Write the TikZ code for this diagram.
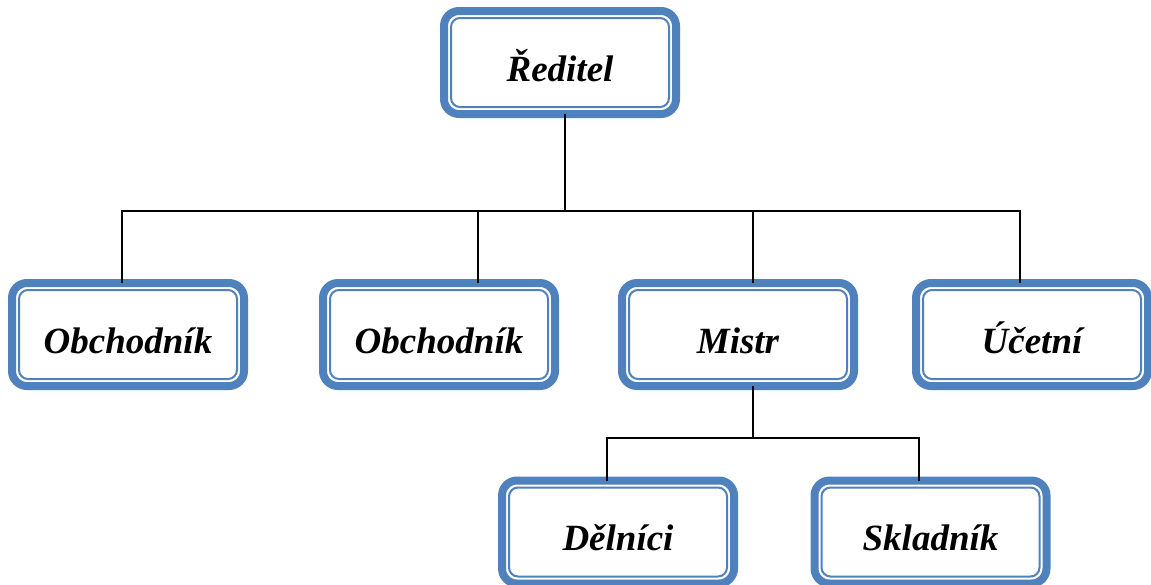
\documentclass[tikz,border=0pt]{standalone}
\usepackage{fontspec}
\setmainfont{Liberation Serif}
\definecolor{boxblue}{HTML}{4F81BD}
\tikzset{
  orgbox/.style={draw=boxblue, line width=8pt, rounded corners=15pt, fill=white,
    minimum width=232pt, minimum height=103pt, outer sep=0pt, inner sep=0pt,
    text height=40pt, text depth=3pt,
    font=\fontsize{37}{40}\selectfont\bfseries\itshape,
    append after command={
      ([shift={(7pt,-7pt)}]\tikzlastnode.north west) edge[draw=boxblue, line width=2pt, rounded corners=9pt, to path={rectangle (\tikztotarget)}]
      ([shift={(-7pt,7pt)}]\tikzlastnode.south east)
    }},
  link/.style={draw=black, line width=2pt}
}
\begin{document}
\begin{tikzpicture}[x=1pt,y=-1pt]
\useasboundingbox (0,0) rectangle (1151,584);
\node[orgbox] (r) at (560,62.5) {Ředitel};
\node[orgbox] (o1) at (128,334.5) {Obchodník};
\node[orgbox] (o2) at (439,334.5) {Obchodník};
\node[orgbox] (m) at (738,334.5) {Mistr};
\node[orgbox] (u) at (1032,334.5) {Účetní};
\node[orgbox] (d) at (618,532) {Dělníci};
\node[orgbox] (s) at (930.5,532) {Skladník};
\coordinate (h1) at (565,211);
\coordinate (h2) at (753,438);
\draw[link] (r.south -| h1) -- (h1);
\draw[link] (o1.north -| 122,0) -- (122,211) -- (1020,211) -- (u.north -| 1020,0);
\draw[link] (o2.north -| 478,0) -- (478,211);
\draw[link] (m.north -| 753,0) -- (753,211);
\draw[link] (m.south -| h2) -- (h2);
\draw[link] (d.north -| 607,0) -- (607,438) -- (919,438) -- (s.north -| 919,0);
\end{tikzpicture}
\end{document}
